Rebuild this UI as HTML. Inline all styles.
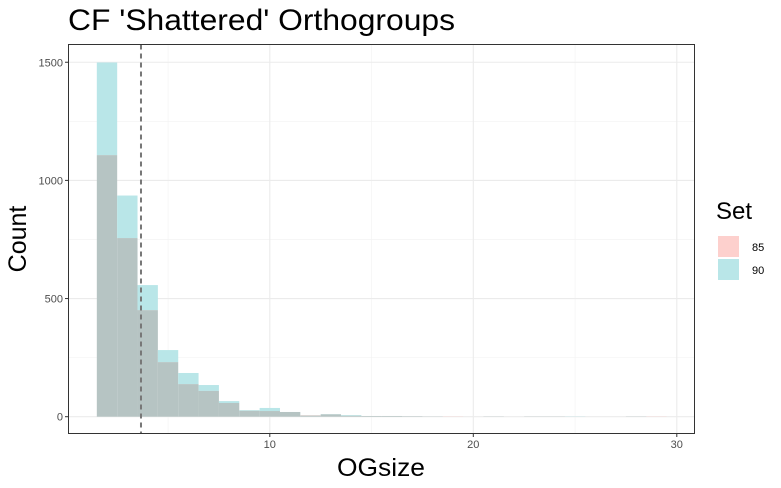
<!DOCTYPE html>
<html><head><meta charset="utf-8"><style>
body{margin:0;background:#fff;}
svg{display:block;font-family:"Liberation Sans",Arial,sans-serif;}
</style></head><body>
<svg id="chart" width="781" height="488">
<text x="68" y="30" font-size="30" textLength="387" lengthAdjust="spacingAndGlyphs" fill="#000">CF 'Shattered' Orthogroups</text>
<rect x="68.5" y="44.5" width="626" height="389" fill="#fff"/>
<g id="grid"></g>
<g id="bars"></g>
<g id="mean-g"></g>
<rect x="68.5" y="44.5" width="626" height="389" fill="none" stroke="#333" stroke-width="1"/>
<g id="axes"></g>
<text x="381" y="476" font-size="25" textLength="88" lengthAdjust="spacingAndGlyphs" text-anchor="middle">OGsize</text>
<text transform="translate(26,239) rotate(-90)" font-size="25" text-anchor="middle">Count</text>
<text x="716" y="219" font-size="24">Set</text>
<rect x="718" y="236" width="21" height="21" fill="#fdd0cd"/>
<text x="752" y="251" font-size="11">85</text>
<rect x="718" y="259" width="21" height="21" fill="#b9e6e8"/>
<text x="752" y="274" font-size="11">90</text>
</svg>
<script>
const bins = [2,3,4,5,6,7,8,9,10,11,12,13,14,15,16,17,18,19,20,21,22,23,24,25,26,27,28,29];
const set85 = [1107,756,451,231,138,109,58,25,24,20,6,10,4,3,3,2,1,1,0,1,0,1,1,0,0,0,1,1];
const set90 = [1499,936,557,282,185,134,66,28,37,20,5,11,7,3,3,2,1,0,0,1,0,1,1,1,0,0,1,0];
const xTicks = [10,20,30];
const xMinor = [5,15,25];
const yTicks = [0,500,1000,1500];
const yMinor = [250,750,1250];
const meanValue = 3.67;

const NS="http://www.w3.org/2000/svg";
function X(v){return 66.3+v*20.35;}
function Y(v){return 416.7-v*0.2363;}
function mk(tag,attrs,parent){const e=document.createElementNS(NS,tag);for(const k in attrs)e.setAttribute(k,attrs[k]);parent.appendChild(e);return e;}
const grid=document.getElementById('grid'),bars=document.getElementById('bars'),axes=document.getElementById('axes'),mg=document.getElementById('mean-g');
xMinor.forEach(v=>{const l=mk('line',{x1:X(v),x2:X(v),y1:44.5,y2:433.5,stroke:'#f2f2f2','stroke-width':0.6},grid);

});
yMinor.forEach(v=>{const l=mk('line',{x1:68.5,x2:694.5,y1:Y(v),y2:Y(v),stroke:'#f2f2f2','stroke-width':0.6},grid);

});
xTicks.forEach(v=>{const l=mk('line',{x1:X(v),x2:X(v),y1:44.5,y2:433.5,stroke:'#ebebeb','stroke-width':1.1},grid);


const t=mk('line',{x1:X(v),x2:X(v),y1:433.5,y2:437,stroke:'#333'},axes);


const tx=mk('text',{x:X(v),y:448,'font-size':11,'text-anchor':'middle',fill:'#4d4d4d'},axes);tx.textContent=v;

});
yTicks.forEach(v=>{const l=mk('line',{x1:68.5,x2:694.5,y1:Y(v),y2:Y(v),stroke:'#ebebeb','stroke-width':1.1},grid);


const t=mk('line',{x1:65,x2:68.5,y1:Y(v),y2:Y(v),stroke:'#333'},axes);


const tx=mk('text',{x:63,y:Y(v)+4,'font-size':11,'text-anchor':'end',fill:'#4d4d4d'},axes);tx.textContent=v;

});
bins.forEach((b,i)=>{const x0=X(b-0.5),w=X(b+0.5)-x0;const p=set85[i],t=set90[i],m=Math.min(p,t),mx=Math.max(p,t);
if(mx>m){const r=mk('rect',{x:x0,y:Y(mx),width:w,height:Y(m)-Y(mx),fill:t>p?'#b9e6e8':'#fdd0cd'},bars);

}
if(m>0){const r=mk('rect',{x:x0,y:Y(m),width:w,height:Y(0)-Y(m),fill:'#b6c4c3'},bars);

}});
const ml=mk('line',{x1:X(meanValue),x2:X(meanValue),y1:44.5,y2:433.5,stroke:'#777','stroke-width':2,'stroke-dasharray':'5,4'},mg);


</script>
</body></html>
